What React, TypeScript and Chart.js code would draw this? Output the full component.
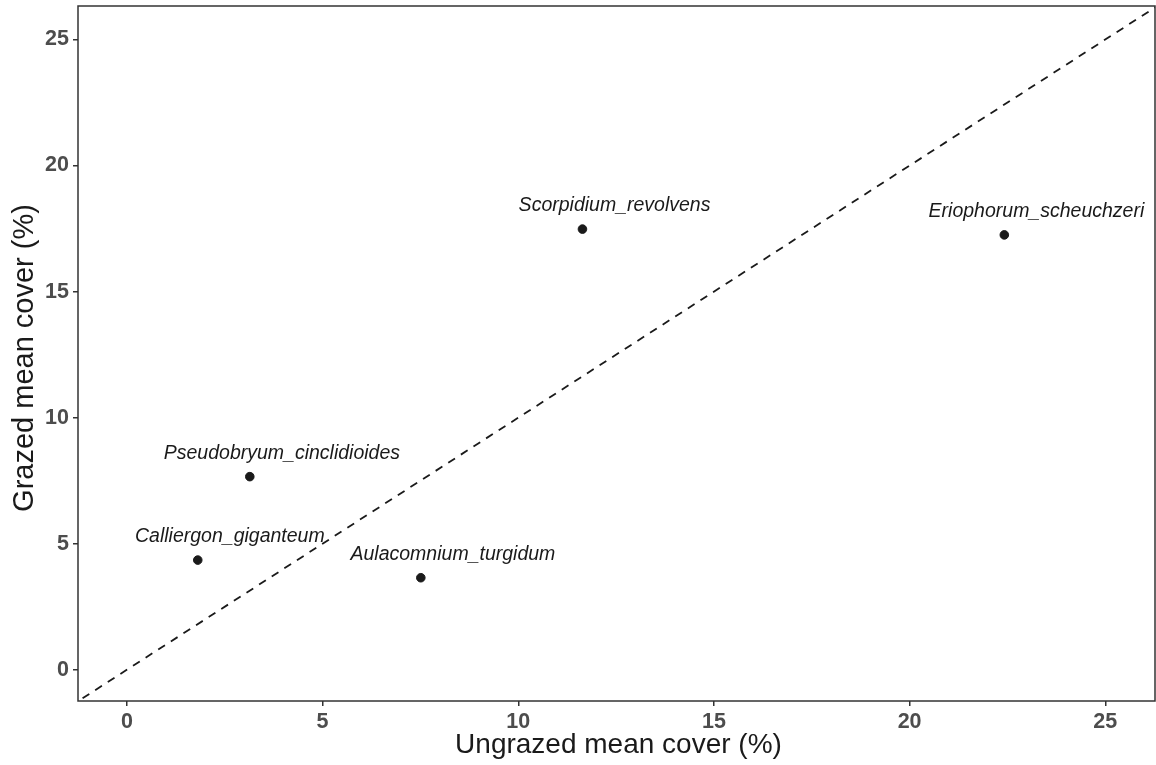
import React, { useEffect, useRef } from "react";
import { Chart, registerables } from "chart.js";

Chart.register(...registerables);

const species = [
  "Calliergon_giganteum",
  "Pseudobryum_cinclidioides",
  "Aulacomnium_turgidum",
  "Scorpidium_revolvens",
  "Eriophorum_scheuchzeri",
];
const ungrazedCover = [1.81, 3.14, 7.51, 11.64, 22.42];
const grazedCover = [4.35, 7.66, 3.65, 17.48, 17.25];
const xTicks = [0, 5, 10, 15, 20, 25];
const yTicks = [0, 5, 10, 15, 20, 25];
const xMin = -1.25;
const xMax = 26.27;
const yMin = -1.24;
const yMax = 26.33;
const identityEnds = [-5, 30];
const labelNudgeX = 0.82;
const labelNudgeY = 0.71;
const xTitle = "Ungrazed mean cover (%)";
const yTitle = "Grazed mean cover (%)";

const FONT = "'Liberation Sans', Arial, Helvetica, sans-serif";

function zeroPadding(s: any) {
  s.paddingTop = 0;
  s.paddingBottom = 0;
  s.paddingLeft = 0;
  s.paddingRight = 0;
}

export default function App() {
  const ref = useRef<HTMLCanvasElement | null>(null);

  useEffect(() => {
    document.body.style.margin = "0";
    const canvas = ref.current;
    if (!canvas) return;

    const labelPlugin = {
      id: "pointLabels",
      afterDatasetsDraw(chart: any) {
        const ctx = chart.ctx;
        const xs = chart.scales.x;
        const ys = chart.scales.y;
        ctx.save();
        ctx.font = `italic 19.5px ${FONT}`;
        ctx.fillStyle = "#1a1a1a";
        ctx.textAlign = "center";
        ctx.textBaseline = "alphabetic";
        species.forEach((name, i) => {
          const px = xs.getPixelForValue(ungrazedCover[i] + labelNudgeX);
          const py = ys.getPixelForValue(grazedCover[i] + labelNudgeY);
          ctx.fillText(name, px, py);
        });
        ctx.restore();
      },
    };

    const borderPlugin = {
      id: "panelBorder",
      afterDraw(chart: any) {
        const { left, right, top, bottom } = chart.chartArea;
        const ctx = chart.ctx;
        ctx.save();
        ctx.strokeStyle = "#333333";
        ctx.lineWidth = 1.5;
        ctx.strokeRect(left, top, right - left, bottom - top);

        // axis titles
        ctx.fillStyle = "#1a1a1a";
        ctx.textAlign = "center";
        ctx.textBaseline = "alphabetic";
        ctx.font = `28px ${FONT}`;
        ctx.fillText(xTitle, (left + right) / 2 + 2, 753);
        ctx.save();
        ctx.translate(33, (top + bottom) / 2 + 4.5);
        ctx.rotate(-Math.PI / 2);
        ctx.font = `29px ${FONT}`;
        ctx.fillText(yTitle, 0, 0);
        ctx.restore();
        ctx.restore();
      },
    };

    const chart = new Chart(canvas, {
      type: "scatter",
      data: {
        datasets: [
          {
            type: "line",
            data: identityEnds.map((v) => ({ x: v, y: v })),
            borderColor: "#1a1a1a",
            borderWidth: 1.8,
            borderDash: [8, 7],
            pointRadius: 0,
            fill: false,
            order: 2,
          } as any,
          {
            type: "scatter",
            data: ungrazedCover.map((x, i) => ({ x, y: grazedCover[i] })),
            backgroundColor: "#1a1a1a",
            borderColor: "#1a1a1a",
            pointRadius: 4.3,
            pointHoverRadius: 4.3,
            order: 1,
          },
        ],
      },
      options: {
        responsive: false,
        animation: false,
        events: [],
        layout: { autoPadding: false, padding: { top: 6, right: 1, left: 0, bottom: 0 } },
        plugins: {
          legend: { display: false },
          tooltip: { enabled: false },
        },
        scales: {
          x: {
            type: "linear",
            min: xMin,
            max: xMax,
            afterBuildTicks: (s: any) => {
              s.ticks = xTicks.map((v) => ({ value: v }));
            },
            afterFit: (s: any) => {
              s.height = 64;
              zeroPadding(s);
            },
            grid: {
              display: true,
              drawOnChartArea: false,
              drawTicks: true,
              tickLength: 5,
              color: "#333333",
              lineWidth: 1.5,
            },
            border: { display: false },
            ticks: {
              autoSkip: false,
              maxRotation: 0,
              padding: 3,
              color: "#4D4D4D",
              font: { family: FONT, size: 21.5, weight: "bold" },
            },
            title: { display: false },
          },
          y: {
            type: "linear",
            min: yMin,
            max: yMax,
            afterBuildTicks: (s: any) => {
              s.ticks = yTicks.map((v) => ({ value: v }));
            },
            afterFit: (s: any) => {
              s.width = 78;
              zeroPadding(s);
            },
            grid: {
              display: true,
              drawOnChartArea: false,
              drawTicks: true,
              tickLength: 5,
              color: "#333333",
              lineWidth: 1.5,
            },
            border: { display: false },
            ticks: {
              autoSkip: false,
              padding: 4,
              color: "#4D4D4D",
              font: { family: FONT, size: 21.5, weight: "bold" },
            },
            title: { display: false },
          },
        },
      },
      plugins: [labelPlugin, borderPlugin],
    });

    return () => chart.destroy();
  }, []);

  return (
    <div style={{ width: 1156, height: 765 }}>
      <canvas ref={ref} width={1156} height={765} style={{ display: "block" }} />
    </div>
  );
}
